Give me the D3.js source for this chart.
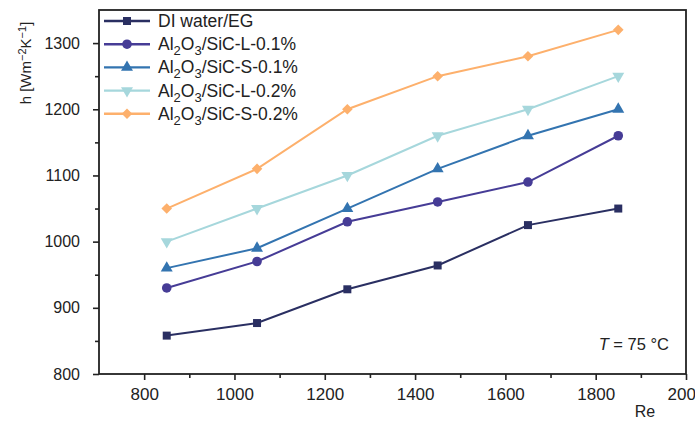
<!DOCTYPE html>
<meta charset="utf-8">
<style>
  body { margin: 0; background: #fff; }
  text { font-family: "Liberation Sans", Arial, sans-serif; fill: #222; }
</style>
<script src="https://d3js.org/d3.v7.min.js"></script>
<div id="chart"></div>
<script>

// Reynolds numbers (x) and heat transfer coefficient h for each fluid
var reynolds = [850, 1050, 1250, 1450, 1650, 1850];
var diWater  = [858, 877, 928, 964, 1025, 1050];
var sicL01   = [930, 970, 1030, 1060, 1090, 1160];
var sicS01   = [960, 990, 1050, 1110, 1160, 1200];
var sicL02   = [1000, 1050, 1100, 1160, 1200, 1250];
var sicS02   = [1050, 1110, 1200, 1250, 1280, 1320];

var xTicks = [800, 1000, 1200, 1400, 1600, 1800, 2000];
var yTicks = [800, 900, 1000, 1100, 1200, 1300];

// legend labels (nanofluids get the Al2O3 prefix with subscripts)
var seriesNames = ["DI water/EG", "/SiC-L-0.1%", "/SiC-S-0.1%", "/SiC-L-0.2%", "/SiC-S-0.2%"];
var seriesColors = ["#2a2f62", "#463c96", "#3374b0", "#a6d7dc", "#fdb06c"];
var seriesSymbols = ["square", "circle", "triangle", "down", "diamond"];
var seriesValues = [diWater, sicL01, sicS01, sicL02, sicS02];

var W = 695, H = 423;
var margin = {top: 10, right: 9, bottom: 49, left: 99},
    width = W - margin.left - margin.right,
    height = H - margin.top - margin.bottom;

var svg = d3.select("#chart").append("svg")
    .attr("width", W).attr("height", H);

var g = svg.append("g")
    .attr("transform", "translate(" + margin.left + "," + margin.top + ")");

var x = d3.scaleLinear().domain([700, 2000]).range([0, width]);
var y = d3.scaleLinear().domain([800, 1350]).range([height, 0]);

function styleTicks(a) {
  a.select(".domain").remove();
  a.selectAll("line").attr("stroke", "#222").attr("stroke-width", 1.6);
  a.selectAll("text").style("font-family", "Liberation Sans, Arial, sans-serif").attr("fill", "#333");
}

// minor ticks
g.append("g")
    .attr("transform", "translate(0," + height + ")")
    .call(d3.axisBottom(x).tickValues(d3.range(900, 2000, 200)).tickSize(4).tickFormat(""))
    .call(styleTicks);
g.append("g")
    .call(d3.axisLeft(y).tickValues(d3.range(850, 1350, 100)).tickSize(4).tickFormat(""))
    .call(styleTicks);

// major ticks
g.append("g")
    .attr("transform", "translate(0," + height + ")")
    .call(d3.axisBottom(x).tickValues(xTicks).tickSize(6).tickPadding(8).tickFormat(d3.format("d")))
    .call(styleTicks)
    .selectAll("text").style("font-size", "17px");
g.append("g")
    .call(d3.axisLeft(y).tickValues(yTicks).tickSize(6).tickPadding(13).tickFormat(d3.format("d")))
    .call(styleTicks)
    .selectAll("text").style("font-size", "16px");

// frame
g.append("rect")
    .attr("width", width).attr("height", height)
    .attr("fill", "none").attr("stroke", "#222").attr("stroke-width", 1.8);

var symbolTypes = {
  square: d3.symbolSquare,
  circle: d3.symbolCircle,
  triangle: d3.symbolTriangle,
  down: d3.symbolTriangle,
  diamond: d3.symbolSquare
};
var symbolSizes = { square: 64, circle: 72, triangle: 62, down: 62, diamond: 56 };
var symbolRotate = { down: 180, diamond: 45 };

function marker(sel, kind, color) {
  sel.append("path")
    .attr("d", d3.symbol().type(symbolTypes[kind]).size(symbolSizes[kind])())
    .attr("transform", symbolRotate[kind] ? "rotate(" + symbolRotate[kind] + ")" : null)
    .attr("fill", color);
}

var line = d3.line()
    .x(function(d) { return x(d[0]); })
    .y(function(d) { return y(d[1]); });

seriesValues.forEach(function(vals, i) {
  var pts = reynolds.map(function(r, j) { return [r, vals[j]]; });
  g.append("path")
    .datum(pts)
    .attr("d", line)
    .attr("fill", "none")
    .attr("stroke", seriesColors[i])
    .attr("stroke-width", 2);
  g.selectAll(".m" + i)
    .data(pts)
    .enter().append("g")
    .attr("class", "m" + i)
    .attr("transform", function(d) { return "translate(" + x(d[0]) + "," + y(d[1]) + ")"; })
    .each(function() { marker(d3.select(this), seriesSymbols[i], seriesColors[i]); });
});

// legend
var legend = svg.append("g");
seriesNames.forEach(function(name, i) {
  var ly = 21 + i * 23.2;
  var row = legend.append("g").attr("transform", "translate(0," + ly + ")");
  row.append("line")
    .attr("x1", 104).attr("x2", 150)
    .attr("stroke", seriesColors[i]).attr("stroke-width", 2.4);
  var m = row.append("g").attr("transform", "translate(127,0)");
  marker(m, seriesSymbols[i], seriesColors[i]);
  var t = row.append("text").attr("x", 158).attr("y", 6).style("font-size", "17.5px");
  if (i == 0) {
    t.text(name);
  } else {
    t.append("tspan").text("Al");
    t.append("tspan").text("2").attr("dy", 5).style("font-size", "13px");
    t.append("tspan").text("O").attr("dy", -5);
    t.append("tspan").text("3").attr("dy", 5).style("font-size", "13px");
    t.append("tspan").text(name).attr("dy", -5);
  }
});

// axis titles
var yl = svg.append("text")
    .attr("transform", "translate(31,63) rotate(-90)")
    .attr("text-anchor", "middle")
    .style("font-size", "15px");
yl.append("tspan").text("h [Wm");
yl.append("tspan").text("\u22122").attr("dy", -5).style("font-size", "11px");
yl.append("tspan").text("K").attr("dy", 5);
yl.append("tspan").text("\u22121").attr("dy", -5).style("font-size", "11px");
yl.append("tspan").text("]").attr("dy", 5);

svg.append("text")
    .attr("x", 645).attr("y", 417)
    .attr("text-anchor", "middle")
    .style("font-size", "16px")
    .text("Re");

var note = svg.append("text")
    .attr("x", 669).attr("y", 350)
    .attr("text-anchor", "end")
    .style("font-size", "16.5px");
note.append("tspan").text("T").style("font-style", "italic");
note.append("tspan").text(" = 75 \u00b0C");

</script>
